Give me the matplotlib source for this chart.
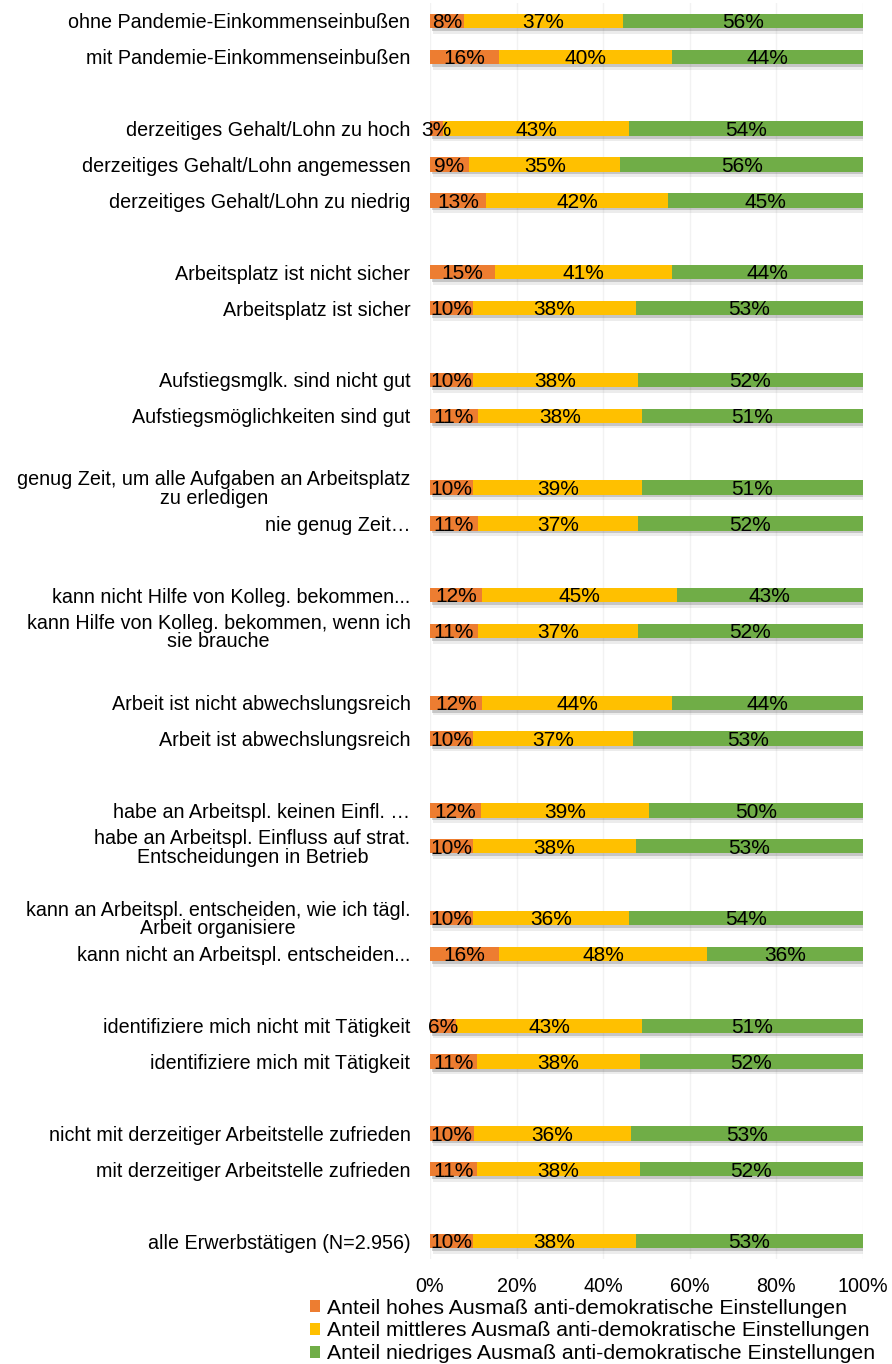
import numpy as np
import matplotlib
matplotlib.use('Agg')
import matplotlib.pyplot as plt
import matplotlib.patheffects as pe

plt.rcParams['font.family'] = ['Liberation Sans', 'DejaVu Sans']

categories = [
    'ohne Pandemie-Einkommenseinbußen',
    'mit Pandemie-Einkommenseinbußen',
    'derzeitiges Gehalt/Lohn zu hoch',
    'derzeitiges Gehalt/Lohn angemessen',
    'derzeitiges Gehalt/Lohn zu niedrig',
    'Arbeitsplatz ist nicht sicher',
    'Arbeitsplatz ist sicher',
    'Aufstiegsmglk. sind nicht gut',
    'Aufstiegsmöglichkeiten sind gut',
    'genug Zeit, um alle Aufgaben an Arbeitsplatz\nzu erledigen',
    'nie genug Zeit…',
    'kann nicht Hilfe von Kolleg. bekommen...',
    'kann Hilfe von Kolleg. bekommen, wenn ich\nsie brauche',
    'Arbeit ist nicht abwechslungsreich',
    'Arbeit ist abwechslungsreich',
    'habe an Arbeitspl. keinen Einfl. …',
    'habe an Arbeitspl. Einfluss auf strat.\nEntscheidungen in Betrieb',
    'kann an Arbeitspl. entscheiden, wie ich tägl.\nArbeit organisiere',
    'kann nicht an Arbeitspl. entscheiden...',
    'identifiziere mich nicht mit Tätigkeit',
    'identifiziere mich mit Tätigkeit',
    'nicht mit derzeitiger Arbeitstelle zufrieden',
    'mit derzeitiger Arbeitstelle zufrieden',
    'alle Erwerbstätigen (N=2.956)',
]
# rows per block (blocks are separated by an empty row)
group_sizes = [2, 3, 2, 2, 2, 2, 2, 2, 2, 2, 2, 1]

hoch = [8, 16, 3, 9, 13, 15, 10, 10, 11, 10, 11, 12, 11, 12, 10, 12, 10, 10, 16, 6, 11, 10, 11, 10]
mittel = [37, 40, 43, 35, 42, 41, 38, 38, 38, 39, 37, 45, 37, 44, 37, 39, 38, 36, 48, 43, 38, 36, 38, 38]
niedrig = [56, 44, 54, 56, 45, 44, 53, 52, 51, 51, 52, 43, 52, 44, 53, 50, 53, 54, 36, 51, 52, 53, 52, 53]

series_names = ['Anteil hohes Ausmaß anti-demokratische Einstellungen',
                'Anteil mittleres Ausmaß anti-demokratische Einstellungen',
                'Anteil niedriges Ausmaß anti-demokratische Einstellungen']
colors = ['#ED7D31', '#FFC000', '#70AD47']

# y slots with one blank slot between blocks
ypos = []
slot = 0
for g in group_sizes:
    for i in range(g):
        ypos.append(slot)
        slot += 1
    slot += 1
ypos = np.array(ypos)
nslots = ypos[-1] + 1

data = np.array([hoch, mittel, niedrig], dtype=float)
share = data / data.sum(axis=0)   # 100 % stacked

fig = plt.figure(figsize=(8.92, 13.64), dpi=100)
ax = fig.add_axes([0.482, 0.077, 0.4855, 0.9208])

# soft drop shadow, faked with two offset layers
shadow = [pe.SimplePatchShadow(offset=(2, -4), shadow_rgbFace='#808080', alpha=0.15),
          pe.SimplePatchShadow(offset=(1.5, -2), shadow_rgbFace='#707070', alpha=0.3),
          pe.Normal()]
left = np.zeros(len(categories))
for k in range(3):
    bars = ax.barh(ypos, share[k], left=left, height=0.4, color=colors[k],
                   label=series_names[k], zorder=3)
    for b in bars:
        b.set_path_effects(shadow)
    for y, l, w, v in zip(ypos, left, share[k], data[k]):
        ax.text(l + w / 2, y + 0.05, '%d%%' % v, ha='center', va='center',
                fontsize=15, color='black', zorder=5)
    left = left + share[k]

ax.set_xlim(0, 1)
ax.set_ylim(nslots - 0.5, -0.5)
ax.set_yticks(ypos)
ax.set_yticklabels(categories, fontsize=14.2, multialignment='center', linespacing=0.95)
ax.set_xticks(np.linspace(0, 1, 6))
ax.set_xticklabels(['0%', '20%', '40%', '60%', '80%', '100%'], fontsize=14.2)
ax.tick_params(axis='both', length=0)
ax.tick_params(axis='y', pad=14)
ax.tick_params(axis='x', pad=13)
ax.grid(axis='x', color='#f2f2f2', lw=1, zorder=0)
for s in ax.spines.values():
    s.set_visible(False)

leg = fig.legend(loc='upper left', bbox_to_anchor=(0.347, 0.048), frameon=False,
                 fontsize=15.3, handlelength=0.5, handleheight=0.5, handletextpad=0.3,
                 labelspacing=0.18, borderpad=0, borderaxespad=0)
for h in leg.legend_handles:
    h.set_path_effects([])

plt.savefig('out.png', dpi=100)
